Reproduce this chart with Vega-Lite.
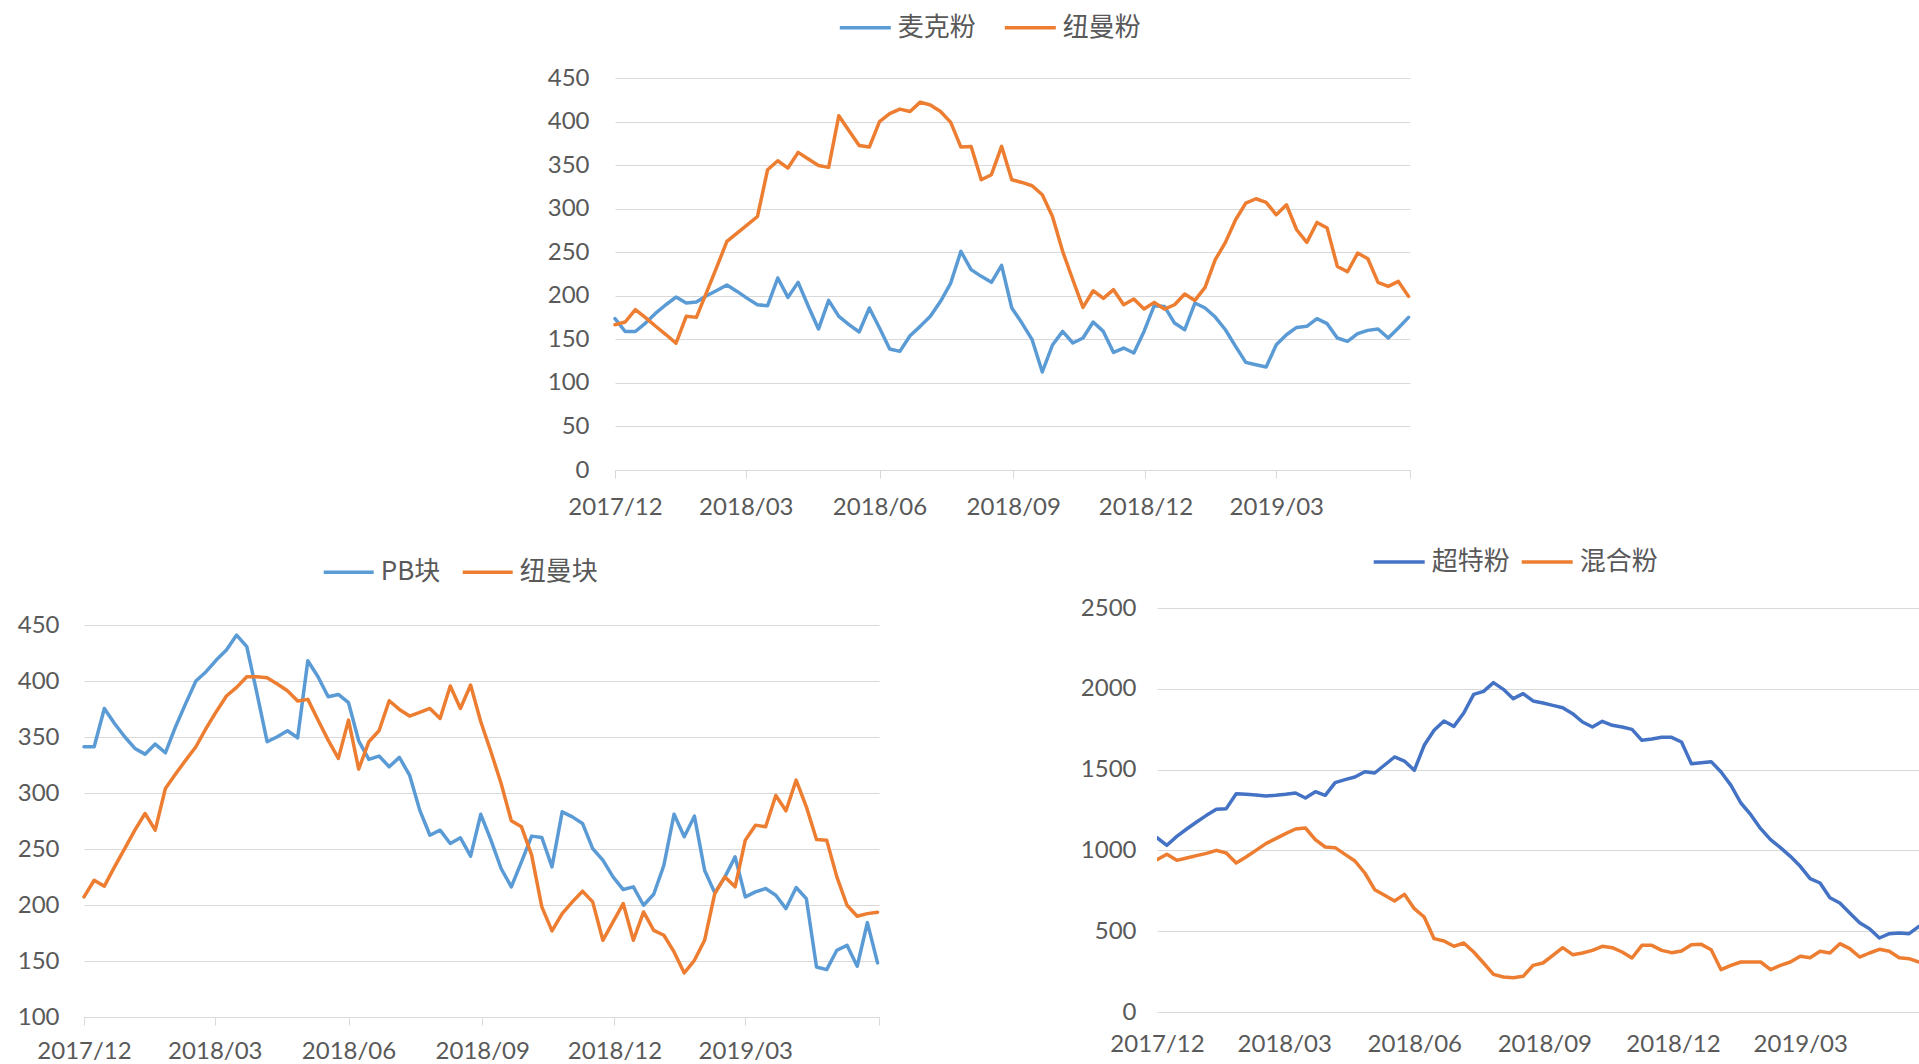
{
  "$schema": "https://vega.github.io/schema/vega-lite/v6.json",
  "padding": 0,
  "background": "white",
  "spacing": 0,
  "bounds": "flush",
  "resolve": {"scale": {"color": "independent", "x": "independent", "y": "independent"}, "legend": {"color": "independent"}, "axis": {"x": "independent", "y": "independent"}},
  "config": {
    "view": {"stroke": null},
    "concat": {"spacing": 0},
    "axis": {
      "labelFont": "Lato",
      "labelFontSize": 24,
      "labelColor": "#595959",
      "gridColor": "#D9D9D9",
      "gridWidth": 1,
      "domainColor": "#D9D9D9",
      "domainWidth": 1,
      "tickColor": "#D9D9D9",
      "tickWidth": 1
    },
    "legend": {
      "labelFont": "Noto Sans CJK SC",
      "labelFontSize": 26,
      "labelColor": "#595959",
      "padding": 0
    }
  },
  "datasets": {
    "p": [
      {"d": "2017-12-01", "麦克粉": 173.7, "纽曼粉": 166.8, "PB块": 341.3, "纽曼块": 207.2, "超特粉": 1078.8, "混合粉": 942.7},
      {"d": "2017-12-08", "麦克粉": 159.0, "纽曼粉": 169.9, "PB块": 341.3, "纽曼块": 222.1, "超特粉": 1031.4, "混合粉": 975.7},
      {"d": "2017-12-15", "麦克粉": 159.0, "纽曼粉": 184.0, "PB块": 375.5, "纽曼块": 216.8, "超特粉": 1087.0, "混合粉": 938.5},
      {"d": "2017-12-22", "麦克粉": 168.7, "纽曼粉": 175.0, "PB块": 362.1, "纽曼块": 234.0, "超特粉": 1132.4, "混合粉": 953.0},
      {"d": "2017-12-29", "麦克粉": 180.0, "纽曼粉": 165.0, "PB块": 350.2, "纽曼块": 250.4, "超特粉": 1175.7, "混合粉": 967.4},
      {"d": "2018-01-05", "麦克粉": 189.7, "纽曼粉": 155.5, "PB块": 339.8, "纽曼块": 266.8, "超特粉": 1217.0, "混合粉": 981.8},
      {"d": "2018-01-12", "麦克粉": 198.5, "纽曼粉": 145.5, "PB块": 334.7, "纽曼块": 281.7, "超特粉": 1254.1, "混合粉": 1000.4},
      {"d": "2018-01-19", "麦克粉": 191.7, "纽曼粉": 176.4, "PB块": 343.7, "纽曼块": 266.8, "超特粉": 1258.3, "混合粉": 983.9},
      {"d": "2018-01-26", "麦克粉": 192.8, "纽曼粉": 175.2, "PB块": 335.9, "纽曼块": 304.0, "超特粉": 1351.1, "混合粉": 922.0},
      {"d": "2018-02-02", "麦克粉": 200.0, "纽曼粉": 204.0, "PB块": 359.2, "纽曼块": 316.9, "超特粉": 1347.0, "混合粉": 959.2},
      {"d": "2018-02-09", "麦克粉": 206.0, "纽曼粉": 233.0, "PB块": 380.0, "纽曼块": 329.4, "超特粉": 1342.8, "混合粉": 1000.4},
      {"d": "2018-02-16", "麦克粉": 212.3, "纽曼粉": 262.4, "PB块": 400.0, "纽曼块": 341.3, "超特粉": 1336.6, "混合粉": 1041.7},
      {"d": "2018-02-23", "麦克粉": 205.0, "纽曼粉": 272.0, "PB块": 408.3, "纽曼块": 357.7, "超特粉": 1340.8, "混合粉": 1072.6},
      {"d": "2018-03-02", "麦克粉": 197.0, "纽曼粉": 281.5, "PB块": 418.7, "纽曼块": 372.6, "超特粉": 1347.0, "混合粉": 1103.5},
      {"d": "2018-03-09", "麦克粉": 189.7, "纽曼粉": 291.0, "PB块": 427.7, "纽曼块": 386.6, "超特粉": 1355.2, "混合粉": 1132.4},
      {"d": "2018-03-16", "麦克粉": 188.6, "纽曼粉": 344.7, "PB块": 441.0, "纽曼块": 394.3, "超特粉": 1324.3, "混合粉": 1138.6},
      {"d": "2018-03-23", "麦克粉": 220.4, "纽曼粉": 355.0, "PB块": 430.7, "纽曼块": 403.8, "超特粉": 1363.5, "混合粉": 1066.4},
      {"d": "2018-03-30", "麦克粉": 198.2, "纽曼粉": 346.6, "PB块": 388.9, "纽曼块": 403.8, "超特粉": 1340.8, "混合粉": 1021.0},
      {"d": "2018-04-06", "麦克粉": 215.4, "纽曼粉": 364.6, "PB块": 345.8, "纽曼块": 402.9, "超特粉": 1419.1, "混合粉": 1016.9},
      {"d": "2018-04-13", "麦克粉": 188.0, "纽曼粉": 357.0, "PB块": 350.2, "纽曼块": 397.3, "超特粉": 1437.7, "混合粉": 975.7},
      {"d": "2018-04-20", "麦克粉": 161.8, "纽曼粉": 349.6, "PB块": 355.6, "纽曼块": 391.3, "超特粉": 1454.2, "混合粉": 934.4},
      {"d": "2018-04-27", "麦克粉": 194.7, "纽曼粉": 347.4, "PB块": 349.3, "纽曼块": 382.1, "超特粉": 1487.2, "混合粉": 860.1},
      {"d": "2018-05-04", "麦克粉": 176.4, "纽曼粉": 406.7, "PB块": 418.1, "纽曼块": 383.6, "超特粉": 1479.0, "混合粉": 757.0},
      {"d": "2018-05-11", "麦克粉": 166.8, "纽曼粉": 389.4, "PB块": 403.8, "纽曼块": 365.1, "超特粉": 1528.5, "混合粉": 722.0},
      {"d": "2018-05-18", "麦克粉": 158.4, "纽曼粉": 372.6, "PB块": 386.0, "纽曼块": 347.2, "超特粉": 1578.0, "混合粉": 686.9},
      {"d": "2018-05-25", "麦克粉": 186.0, "纽曼粉": 370.7, "PB块": 388.0, "纽曼块": 330.9, "超特粉": 1553.2, "混合粉": 728.1},
      {"d": "2018-06-01", "麦克粉": 163.0, "纽曼粉": 400.0, "PB块": 380.6, "纽曼块": 365.1, "超特粉": 1495.5, "混合粉": 639.4},
      {"d": "2018-06-08", "麦克粉": 138.9, "纽曼粉": 409.0, "PB块": 346.6, "纽曼块": 321.3, "超特粉": 1650.2, "混合粉": 587.9},
      {"d": "2018-06-15", "麦克粉": 136.2, "纽曼粉": 414.3, "PB块": 330.0, "纽曼块": 345.8, "超特粉": 1743.0, "混合粉": 453.8},
      {"d": "2018-06-22", "麦克粉": 154.2, "纽曼粉": 411.6, "PB块": 333.0, "纽曼块": 355.6, "超特粉": 1800.7, "混合粉": 439.4},
      {"d": "2018-06-29", "麦克粉": 164.9, "纽曼粉": 422.3, "PB块": 323.4, "纽曼块": 382.4, "超特粉": 1767.7, "混合粉": 406.4},
      {"d": "2018-07-06", "麦克粉": 176.4, "纽曼粉": 419.0, "PB块": 331.8, "纽曼块": 374.6, "超特粉": 1850.2, "混合粉": 427.0},
      {"d": "2018-07-13", "麦克粉": 193.6, "纽曼粉": 411.6, "PB块": 316.0, "纽曼块": 368.7, "超特粉": 1965.8, "混合粉": 371.3},
      {"d": "2018-07-20", "麦克粉": 214.6, "纽曼粉": 399.0, "PB块": 284.7, "纽曼块": 372.0, "超特粉": 1984.3, "混合粉": 303.2},
      {"d": "2018-07-27", "麦克粉": 251.0, "纽曼粉": 370.7, "PB块": 262.3, "纽曼块": 375.5, "超特粉": 2038.0, "混合粉": 233.1},
      {"d": "2018-08-03", "麦克粉": 230.0, "纽曼粉": 371.5, "PB块": 266.8, "纽曼块": 366.6, "超特粉": 1996.7, "混合粉": 216.6},
      {"d": "2018-08-10", "麦克粉": 222.3, "纽曼粉": 333.2, "PB块": 254.9, "纽曼块": 395.5, "超特粉": 1939.0, "混合粉": 212.5},
      {"d": "2018-08-17", "麦克粉": 215.4, "纽曼粉": 339.0, "PB块": 260.0, "纽曼块": 375.5, "超特粉": 1969.9, "混合粉": 220.7},
      {"d": "2018-08-24", "麦克粉": 235.0, "纽曼粉": 371.5, "PB块": 243.6, "纽曼块": 396.4, "超特粉": 1925.0, "混合粉": 288.8},
      {"d": "2018-08-31", "麦克粉": 186.0, "纽曼粉": 333.2, "PB块": 281.0, "纽曼块": 363.6, "超特粉": 1912.1, "混合粉": 303.2},
      {"d": "2018-09-07", "麦克粉": 168.7, "纽曼粉": 330.1, "PB块": 257.9, "纽曼块": 336.8, "超特粉": 1897.7, "混合粉": 350.7},
      {"d": "2018-09-14", "麦克粉": 149.6, "纽曼粉": 326.3, "PB块": 232.6, "纽曼块": 308.5, "超特粉": 1883.2, "混合粉": 398.1},
      {"d": "2018-09-21", "麦克粉": 112.5, "纽曼粉": 316.0, "PB块": 216.2, "纽曼块": 275.2, "超特粉": 1846.1, "混合粉": 354.8},
      {"d": "2018-09-28", "麦克粉": 143.5, "纽曼粉": 291.0, "PB块": 238.5, "纽曼块": 269.8, "超特粉": 1794.6, "混合粉": 365.1},
      {"d": "2018-10-05", "麦克粉": 159.1, "纽曼粉": 251.0, "PB块": 261.5, "纽曼块": 244.5, "超特粉": 1763.6, "混合粉": 381.6},
      {"d": "2018-10-12", "麦克粉": 145.8, "纽曼粉": 218.4, "PB块": 260.3, "纽曼块": 198.3, "超特粉": 1798.7, "混合粉": 406.4},
      {"d": "2018-10-19", "麦克粉": 151.5, "纽曼粉": 186.7, "PB块": 234.0, "纽曼块": 176.9, "超特粉": 1773.9, "混合粉": 398.1},
      {"d": "2018-10-26", "麦克粉": 169.9, "纽曼粉": 205.8, "PB块": 283.2, "纽曼块": 192.3, "超特粉": 1763.6, "混合粉": 371.3},
      {"d": "2018-11-02", "麦克粉": 159.1, "纽曼粉": 197.0, "PB块": 278.7, "纽曼块": 202.8, "超特粉": 1749.2, "混合粉": 334.2},
      {"d": "2018-11-09", "麦克粉": 135.0, "纽曼粉": 207.0, "PB块": 272.8, "纽曼块": 212.3, "超特粉": 1681.1, "混合粉": 412.5},
      {"d": "2018-11-16", "麦克粉": 140.0, "纽曼粉": 189.7, "PB块": 250.4, "纽曼块": 202.8, "超特粉": 1689.4, "混合粉": 412.5},
      {"d": "2018-11-23", "麦克粉": 134.3, "纽曼粉": 196.3, "PB块": 240.0, "纽曼块": 168.5, "超特粉": 1699.7, "混合粉": 381.6},
      {"d": "2018-11-30", "麦克粉": 159.1, "纽曼粉": 184.8, "PB块": 225.1, "纽曼块": 184.9, "超特粉": 1699.7, "混合粉": 367.2},
      {"d": "2018-12-07", "麦克粉": 188.6, "纽曼粉": 192.4, "PB块": 213.8, "纽曼块": 201.3, "超特粉": 1670.8, "混合粉": 377.5},
      {"d": "2018-12-14", "麦克粉": 187.8, "纽曼粉": 184.8, "PB块": 216.2, "纽曼块": 168.5, "超特粉": 1536.7, "混合粉": 416.7},
      {"d": "2018-12-21", "麦克粉": 168.7, "纽曼粉": 189.7, "PB块": 199.8, "纽曼块": 193.8, "超特粉": 1542.9, "混合粉": 418.7},
      {"d": "2018-12-28", "麦克粉": 161.0, "纽曼粉": 202.0, "PB块": 209.6, "纽曼块": 177.4, "超特粉": 1549.1, "混合粉": 385.7},
      {"d": "2019-01-04", "麦克粉": 191.7, "纽曼粉": 194.7, "PB块": 235.5, "纽曼块": 173.0, "超特粉": 1485.1, "混合粉": 262.0},
      {"d": "2019-01-11", "麦克粉": 186.0, "纽曼粉": 209.6, "PB块": 281.1, "纽曼块": 158.1, "超特粉": 1402.6, "混合粉": 288.8},
      {"d": "2019-01-18", "麦克粉": 175.6, "纽曼粉": 241.4, "PB块": 260.9, "纽曼块": 139.3, "超特粉": 1293.3, "混合粉": 309.4},
      {"d": "2019-01-25", "麦克粉": 161.0, "纽曼粉": 261.3, "PB块": 279.3, "纽曼块": 150.6, "超特粉": 1221.1, "混合粉": 309.4},
      {"d": "2019-02-01", "麦克粉": 142.0, "纽曼粉": 287.3, "PB块": 231.1, "纽曼块": 168.5, "超特粉": 1134.5, "混合粉": 309.4},
      {"d": "2019-02-08", "麦克粉": 123.6, "纽曼粉": 306.4, "PB块": 210.8, "纽曼块": 210.2, "超特粉": 1066.4, "混合粉": 262.0},
      {"d": "2019-02-15", "麦克粉": 120.9, "纽曼粉": 311.4, "PB块": 225.1, "纽曼块": 225.1, "超特粉": 1016.9, "混合粉": 288.8},
      {"d": "2019-02-22", "麦克粉": 118.2, "纽曼粉": 307.2, "PB块": 243.0, "纽曼块": 216.2, "超特粉": 963.3, "混合粉": 309.4},
      {"d": "2019-03-01", "麦克粉": 143.8, "纽曼粉": 293.0, "PB块": 207.2, "纽曼块": 257.9, "超特粉": 901.4, "混合粉": 344.5},
      {"d": "2019-03-08", "麦克粉": 155.3, "纽曼粉": 304.5, "PB块": 211.7, "纽曼块": 271.3, "超特粉": 825.1, "混合粉": 336.2},
      {"d": "2019-03-15", "麦克粉": 163.7, "纽曼粉": 275.8, "PB块": 214.7, "纽曼块": 269.8, "超特粉": 798.3, "混合粉": 375.4},
      {"d": "2019-03-22", "麦克粉": 164.9, "纽曼粉": 261.3, "PB块": 208.7, "纽曼块": 297.8, "超特粉": 707.5, "混合粉": 365.1},
      {"d": "2019-03-29", "麦克粉": 173.7, "纽曼粉": 284.2, "PB块": 196.8, "纽曼块": 284.1, "超特粉": 674.5, "混合粉": 422.9},
      {"d": "2019-04-05", "麦克粉": 168.0, "纽曼粉": 277.7, "PB块": 215.6, "纽曼块": 311.5, "超特粉": 612.6, "混合粉": 391.9},
      {"d": "2019-04-12", "麦克粉": 151.5, "纽曼粉": 233.7, "PB块": 205.7, "纽曼块": 287.7, "超特粉": 552.8, "混合粉": 340.3},
      {"d": "2019-04-19", "麦克粉": 147.7, "纽曼粉": 227.6, "PB块": 144.7, "纽曼块": 258.5, "超特粉": 515.7, "混合粉": 365.1},
      {"d": "2019-04-26", "麦克粉": 156.5, "纽曼粉": 249.0, "PB块": 142.3, "纽曼块": 257.9, "超特粉": 457.9, "混合粉": 387.8},
      {"d": "2019-05-03", "麦克粉": 160.3, "纽曼粉": 242.5, "PB块": 159.6, "纽曼块": 225.1, "超特粉": 484.7, "混合粉": 375.4},
      {"d": "2019-05-10", "麦克粉": 161.8, "纽曼粉": 215.4, "PB块": 164.0, "纽曼块": 199.8, "超特粉": 488.9, "混合粉": 336.2},
      {"d": "2019-05-17", "麦克粉": 151.5, "纽曼粉": 210.8, "PB块": 145.3, "纽曼块": 190.0, "超特粉": 484.7, "混合粉": 330.0},
      {"d": "2019-05-24", "麦克粉": 163.0, "纽曼粉": 216.5, "PB块": 184.3, "纽曼块": 192.3, "超特粉": 530.1, "混合粉": 309.4},
      {"d": "2019-05-31", "麦克粉": 175.2, "纽曼粉": 199.3, "PB块": 148.3, "纽曼块": 193.5, "超特粉": 560.0, "混合粉": 300.0}
    ]
  },
  "vconcat": [
    {"width": 1, "height": 78, "data": {"values": []}, "mark": "point"},
    {
      "spacing": 0,
      "bounds": "flush",
      "resolve": {"scale": {"color": "independent", "x": "independent", "y": "independent"}, "legend": {"color": "independent"}},
      "hconcat": [
        {"width": 615, "height": 1, "data": {"values": []}, "mark": "point"},
        {
          "width": 795,
          "height": 392,
          "data": {"name": "p"},
          "transform": [{"fold": ["麦克粉", "纽曼粉"], "as": ["series", "value"]}],
          "mark": {"type": "line", "strokeWidth": 3.5, "strokeJoin": "round", "strokeCap": "round"},
          "encoding": {
            "x": {
              "field": "d",
              "type": "temporal",
              "scale": {"type": "utc", "domain": [{"year": 2017, "month": 12, "date": 1, "utc": true}, {"year": 2019, "month": 6, "date": 1, "utc": true}]},
              "axis": {
                "title": null,
                "grid": false,
                "domain": true,
                "ticks": true,
                "tickSize": 8,
                "labelPadding": 17,
                "labelFlush": false,
                "labelOverlap": false,
                "values": [
                  {"year": 2017, "month": 12, "date": 1, "utc": true},
                  {"year": 2018, "month": 3, "date": 1, "utc": true},
                  {"year": 2018, "month": 6, "date": 1, "utc": true},
                  {"year": 2018, "month": 9, "date": 1, "utc": true},
                  {"year": 2018, "month": 12, "date": 1, "utc": true},
                  {"year": 2019, "month": 3, "date": 1, "utc": true},
                  {"year": 2019, "month": 6, "date": 1, "utc": true}
                ],
                "labelExpr": "utcFormat(datum.value, '%Y/%m') == '2019/06' ? '' : utcFormat(datum.value, '%Y/%m')"
              }
            },
            "y": {
              "field": "value",
              "type": "quantitative",
              "scale": {"domain": [0, 450]},
              "axis": {
                "title": null,
                "format": "d",
                "values": [0, 50, 100, 150, 200, 250, 300, 350, 400, 450],
                "domain": false,
                "ticks": false,
                "tickSize": 0,
                "labelPadding": 26,
                "grid": true
              }
            },
            "color": {
              "field": "series",
              "type": "nominal",
              "scale": {"domain": ["麦克粉", "纽曼粉"], "range": ["#5B9BD5", "#ED7D31"]},
              "legend": {
                "title": null,
                "orient": "none",
                "direction": "horizontal",
                "legendX": 222.8,
                "legendY": -78,
                "symbolType": "stroke",
                "symbolSize": 2601,
                "symbolStrokeWidth": 3.5,
                "labelOffset": 5,
                "columnPadding": 21
              }
            }
          }
        }
      ]
    },
    {"width": 1, "height": 530, "data": {"values": []}, "mark": "point"},
    {
      "spacing": 0,
      "bounds": "flush",
      "resolve": {"scale": {"color": "independent", "x": "independent", "y": "independent"}, "legend": {"color": "independent"}},
      "hconcat": [
        {"width": 84, "height": 1, "data": {"values": []}, "mark": "point"},
        {
          "spacing": 0,
          "bounds": "flush",
          "resolve": {"scale": {"color": "independent", "x": "independent", "y": "independent"}, "legend": {"color": "independent"}},
          "vconcat": [
            {"width": 1, "height": 17, "data": {"values": []}, "mark": "point"},
            {
              "width": 795,
              "height": 392,
              "data": {"name": "p"},
              "transform": [{"fold": ["PB块", "纽曼块"], "as": ["series", "value"]}],
              "mark": {"type": "line", "strokeWidth": 3.5, "strokeJoin": "round", "strokeCap": "round"},
              "encoding": {
                "x": {
                  "field": "d",
                  "type": "temporal",
                  "scale": {"type": "utc", "domain": [{"year": 2017, "month": 12, "date": 1, "utc": true}, {"year": 2019, "month": 6, "date": 1, "utc": true}]},
                  "axis": {
                    "title": null,
                    "grid": false,
                    "domain": true,
                    "ticks": true,
                    "tickSize": 8,
                    "labelPadding": 14,
                    "labelFlush": false,
                    "labelOverlap": false,
                    "values": [
                      {"year": 2017, "month": 12, "date": 1, "utc": true},
                      {"year": 2018, "month": 3, "date": 1, "utc": true},
                      {"year": 2018, "month": 6, "date": 1, "utc": true},
                      {"year": 2018, "month": 9, "date": 1, "utc": true},
                      {"year": 2018, "month": 12, "date": 1, "utc": true},
                      {"year": 2019, "month": 3, "date": 1, "utc": true},
                      {"year": 2019, "month": 6, "date": 1, "utc": true}
                    ],
                    "labelExpr": "utcFormat(datum.value, '%Y/%m') == '2019/06' ? '' : utcFormat(datum.value, '%Y/%m')"
                  }
                },
                "y": {
                  "field": "value",
                  "type": "quantitative",
                  "scale": {"domain": [100, 450]},
                  "axis": {
                    "title": null,
                    "format": "d",
                    "values": [100, 150, 200, 250, 300, 350, 400, 450],
                    "domain": false,
                    "ticks": false,
                    "tickSize": 0,
                    "labelPadding": 25,
                    "grid": true
                  }
                },
                "color": {
                  "field": "series",
                  "type": "nominal",
                  "scale": {"domain": ["PB块", "纽曼块"], "range": ["#5B9BD5", "#ED7D31"]},
                  "legend": {
                    "title": null,
                    "orient": "none",
                    "direction": "horizontal",
                    "legendX": 237.7,
                    "legendY": -79.7,
                    "symbolType": "stroke",
                    "symbolSize": 2500,
                    "symbolStrokeWidth": 3.5,
                    "labelOffset": 5,
                    "columnPadding": 15
                  }
                }
              }
            }
          ]
        },
        {"width": 1073, "height": 1, "data": {"values": []}, "mark": "point"},
        {
          "width": 762,
          "height": 404,
          "data": {"name": "p"},
          "transform": [{"fold": ["超特粉", "混合粉"], "as": ["series", "value"]}],
          "mark": {"type": "line", "strokeWidth": 3.5, "strokeJoin": "round", "strokeCap": "round", "clip": true},
          "encoding": {
            "x": {
              "field": "d",
              "type": "temporal",
              "scale": {"type": "utc", "domain": [{"year": 2017, "month": 12, "date": 1, "utc": true}, {"year": 2019, "month": 5, "date": 24, "utc": true}]},
              "axis": {
                "title": null,
                "grid": false,
                "domain": true,
                "ticks": false,
                "tickSize": 0,
                "labelPadding": 20,
                "labelFlush": false,
                "labelOverlap": false,
                "values": [
                  {"year": 2017, "month": 12, "date": 1, "utc": true},
                  {"year": 2018, "month": 3, "date": 1, "utc": true},
                  {"year": 2018, "month": 6, "date": 1, "utc": true},
                  {"year": 2018, "month": 9, "date": 1, "utc": true},
                  {"year": 2018, "month": 12, "date": 1, "utc": true},
                  {"year": 2019, "month": 3, "date": 1, "utc": true}
                ],
                "labelExpr": "utcFormat(datum.value, '%Y/%m')"
              }
            },
            "y": {
              "field": "value",
              "type": "quantitative",
              "scale": {"domain": [0, 2500]},
              "axis": {
                "title": null,
                "format": "d",
                "values": [0, 500, 1000, 1500, 2000, 2500],
                "domain": false,
                "ticks": false,
                "tickSize": 0,
                "labelPadding": 21,
                "grid": true
              }
            },
            "color": {
              "field": "series",
              "type": "nominal",
              "scale": {"domain": ["超特粉", "混合粉"], "range": ["#4472C4", "#ED7D31"]},
              "legend": {
                "title": null,
                "orient": "none",
                "direction": "horizontal",
                "legendX": 214.7,
                "legendY": -73.7,
                "symbolType": "stroke",
                "symbolSize": 2601,
                "symbolStrokeWidth": 3.5,
                "labelOffset": 5,
                "columnPadding": 4
              }
            }
          }
        }
      ]
    }
  ]
}
